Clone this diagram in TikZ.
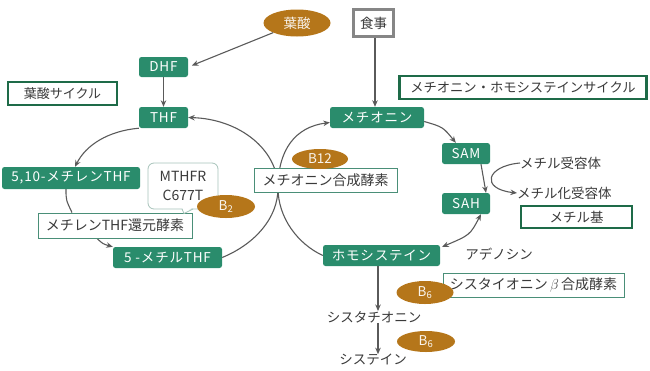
\documentclass[tikz,border=0pt]{standalone}
\usepackage{fontspec}
\setmainfont{Noto Sans CJK JP}
\newfontfamily\spaced[LetterSpace=6]{Noto Sans CJK JP}
\usetikzlibrary{shapes.geometric,arrows.meta}
\definecolor{gbox}{HTML}{2A8C6C}
\definecolor{brn}{HTML}{B5761A}
\definecolor{dgreen}{HTML}{1E6B48}
\definecolor{tgreen}{HTML}{4A8F78}
\definecolor{lgray}{HTML}{5A5A5A}
\definecolor{txt}{HTML}{3A3A3A}
\definecolor{callb}{HTML}{A7C3BA}
\pgfdeclarelayer{bg}
\pgfsetlayers{bg,main}
\begin{document}
\begin{tikzpicture}[x=1pt,y=-1pt,
  every node/.style={text=txt},
  gnode/.style={fill=gbox, rounded corners=2.5pt, text=white, inner sep=0pt, font=\spaced\fontsize{13.5}{15}\selectfont},
  bnode/.style={ellipse, fill=brn, text=white!92!brn, inner sep=0pt, font=\fontsize{13.5}{15}\selectfont},
  frameD/.style={draw=dgreen, line width=2.4pt, fill=white, inner sep=0pt, font=\fontsize{13}{15}\selectfont},
  frameT/.style={draw=tgreen, line width=0.9pt, fill=white, inner sep=0pt, font=\fontsize{14}{15}\selectfont},
  plain/.style={inner sep=0pt, font=\fontsize{13.5}{15}\selectfont},
  arr/.style={draw=lgray, line width=1.1pt, -{Stealth[length=6.5pt,width=5.5pt]}},
  darr/.style={draw=lgray, line width=1.1pt, {Stealth[length=6.5pt,width=5.5pt]}-{Stealth[length=6.5pt,width=5.5pt]}},
  ln/.style={draw=lgray, line width=1.1pt}]
\useasboundingbox (0,0) rectangle (650,370);

% ---- nodes ----
\node[bnode, minimum width=67pt, minimum height=27pt] (folate) at (297,23) {葉酸};
\node[draw=gray!95, line width=2.6pt, fill=white, minimum width=40.5pt, minimum height=27.5pt, inner sep=0pt, font=\fontsize{13.5}{15}\selectfont] (meal) at (373.5,23) {食事};
\node[gnode, minimum width=49pt, minimum height=20pt] (DHF) at (163.5,67) {DHF};
\node[frameD, minimum width=108.5pt, minimum height=22.5pt] (fcyc) at (62.5,93.5) {葉酸サイクル};
\node[gnode, minimum width=49pt, minimum height=21pt] (THF) at (163.5,117.5) {THF};
\node[gnode, minimum width=94pt, minimum height=21pt] (met) at (377,117.5) {メチオニン};
\node[frameD, minimum width=247pt, minimum height=22.5pt, font=\fontsize{13.3}{15}\selectfont] (mcyc) at (523,87.5) {メチオニン・ホモシステインサイクル};
\node[gnode, minimum width=48pt, minimum height=21pt] (SAM) at (466,153.5) {SAM};
\node[gnode, minimum width=48pt, minimum height=21pt] (SAH) at (466,203.5) {SAH};
\node[plain, anchor=west] (acc) at (520,163) {メチル受容体};
\node[plain, anchor=west] (macc) at (517,193) {メチル化受容体};
\node[frameD, minimum width=110.5pt, minimum height=21.5pt, font=\fontsize{13.5}{15}\selectfont] (mgrp) at (576.5,217) {メチル基};
\node[gnode, minimum width=117pt, minimum height=21pt] (hcy) at (381.5,255.5) {ホモシステイン};
\node[plain] (ade) at (499,254) {アデノシン};
\node[frameT, minimum width=181pt, minimum height=24pt] (cbs) at (533.5,285) {シスタイオニン\,$\beta$\,合成酵素};
\node[bnode, minimum width=57pt, minimum height=23pt] (b6a) at (425,292.5) {B\textsubscript{6}};
\node[plain] (cta) at (374,317) {シスタチオニン};
\node[bnode, minimum width=58pt, minimum height=21pt] (b6b) at (426,341.5) {B\textsubscript{6}};
\node[plain] (cys) at (373,360) {システイン};

\node[gnode, minimum width=138pt, minimum height=22pt] (m510) at (71,178) {5,10-メチレンTHF};
\node[frameT, minimum width=154pt, minimum height=25pt] (red) at (115,225.5) {メチレンTHF還元酵素};
\node[gnode, minimum width=109pt, minimum height=21pt] (m5) at (167.5,257.5) {5 -メチルTHF};
\node[draw=callb, line width=0.8pt, fill=white, rounded corners=6pt, minimum width=70pt, minimum height=46pt, inner sep=0pt, align=center, font=\fontsize{14}{18.5}\selectfont] (call) at (183,186) {MTHFR\\C677T};
\fill[white] (182,207) -- (184,213.5) -- (193,207) -- cycle;
\draw[callb, line width=0.8pt] (182,209) -- (184,213.5) -- (193,209);
\node[bnode, minimum width=58pt, minimum height=23pt] (b2) at (226,206.5) {B\textsubscript{2}};
\node[frameT, minimum width=143pt, minimum height=24pt] (msyn) at (325.5,180) {メチオニン合成酵素};
\node[bnode, minimum width=56pt, minimum height=20pt] (b12) at (320,159) {B12};

% ---- connectors ----
\begin{pgfonlayer}{bg}
\draw[arr] (THF.south west) .. controls (108,131) and (86,145) .. ([xshift=4pt]m510.north);
\draw[ln] ([xshift=-5pt]m510.south) .. controls (66,200) .. ([xshift=-43pt]red.north);
\draw[arr] ([xshift=-18pt]red.south) .. controls (103,244) .. (m5.north west);
\draw[arr] (m5.east) .. controls (255,244) and (278,218) .. (278,188) .. controls (278,150) and (240,119) .. (THF.east);
\draw[arr] (hcy.west) .. controls (298,244) and (278,218) .. (278,188) .. controls (278,150) and (295,127) .. ([yshift=-5pt]met.west);
\end{pgfonlayer}
\draw[arr, shorten >=4pt] (folate) -- (DHF.east);
\draw[arr] (DHF.south) -- (THF.north);
\draw[arr] (meal.south -| 375,0) -- (met.north -| 375,0);
\draw[arr] ([yshift=-4pt]met.east) .. controls (443,127) .. ([xshift=14pt]SAM.north west);
\draw[arr] ([xshift=15pt]SAM.south) -- ([xshift=20pt]SAH.north);
\draw[arr] (acc.west) .. controls (486,166) and (480,189) .. (macc.west);
\draw[darr] ([xshift=15pt]SAH.south) .. controls (470,235) .. ([xshift=2pt,yshift=-2pt]hcy.north east);
\draw[arr] (hcy.south -| 378,0) -- (cta.north -| 378,0);
\draw[arr] (cta.south -| 378,0) -- (cys.north -| 378,0);
\end{tikzpicture}
\end{document}
